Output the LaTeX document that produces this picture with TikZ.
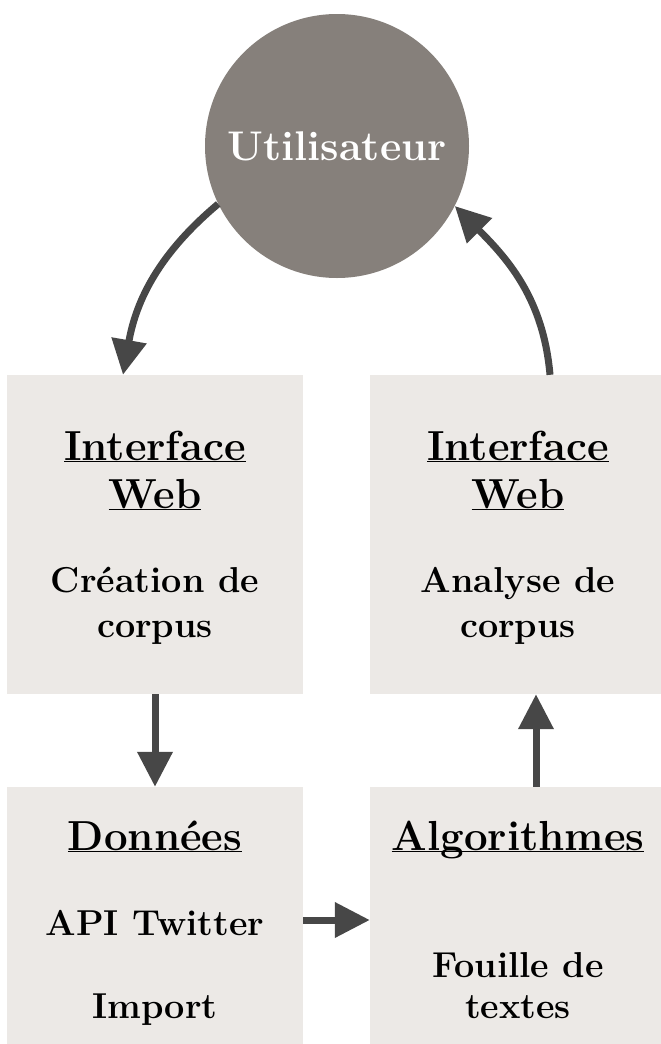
\documentclass[tikz,border=0pt]{standalone}
\usetikzlibrary{arrows.meta}

\definecolor{fondbloc}{HTML}{ECE9E6}
\definecolor{gris}{HTML}{86807B}
\definecolor{fleche}{HTML}{474747}

\newcommand{\souligne}[1]{\underline{\smash{#1}}}

\begin{document}
\begin{tikzpicture}[x=1pt,y=1pt,
    bloc/.style={fill=fondbloc,minimum width=296pt,minimum height=319pt,inner sep=0pt},
    titre/.style={anchor=base,inner sep=0pt,font=\fontsize{42}{48}\selectfont\bfseries},
    texte/.style={anchor=base,inner sep=0pt,font=\fontsize{36}{45}\selectfont\bfseries},
    lien/.style={draw=fleche,line width=7pt,-{Triangle[length=35pt,width=34pt]}}]

        \useasboundingbox (0,0) rectangle (661,-1044);
        \clip (0,0) rectangle (661,-1044);

        % utilisateur
        \node [circle,fill=gris,minimum size=264pt,inner sep=0pt,text=white,
               font=\fontsize{41.5}{48}\selectfont\bfseries] (user) at (337,-146) {Utilisateur};

        % blocs
        \node [bloc] (creation) at (155,-534.5) {};
        \node [bloc] (analyse) at (518,-534.5) {};
        \node [bloc] (donnees) at (155,-946.5) {};
        \node [bloc] (algo) at (518,-946.5) {};

        % textes en haut a gauche
        \node [titre] (titreA) at (155,-460) {\souligne{Interface}};
        \node [titre] (titreAw) at (155,-508) {\souligne{Web}};
        \node [texte] (creaA) at (155,-592) {Création de};
        \node [texte] (creaB) at (155,-637) {corpus};

        % textes en haut a droite
        \node [titre] (titreB) at (518,-460) {\souligne{Interface}};
        \node [titre] (titreBw) at (518,-508) {\souligne{Web}};
        \node [texte] (anaA) at (518,-592) {Analyse de};
        \node [texte] (anaB) at (518,-637) {corpus};

        % textes en bas
        \node [titre] (titreC) at (155,-850) {\souligne{Données}};
        \node [texte] (api) at (155,-935) {API Twitter};
        \node [texte] (import) at (155,-1018) {Import};
        \node [titre] (titreD) at (518,-850) {\souligne{Algorithmes}};
        \node [texte] (fouilleA) at (518,-977) {Fouille de};
        \node [texte] (fouilleB) at (518,-1018) {textes};

        % fleches
        \draw [lien] (user.206) to [out=220,in=80] ([xshift=-32pt]creation.north);
        \draw [lien] ([xshift=32pt]analyse.north) to [out=95,in=-45] (user.333);
        \draw [lien] (creation.south) -- (donnees.north);
        \draw [lien] ([yshift=26.5pt]donnees.east) -- ([yshift=26.5pt]algo.west);
        \draw [lien] ([xshift=18pt]algo.north) -- ([xshift=18pt]analyse.south);

\end{tikzpicture}
\end{document}
